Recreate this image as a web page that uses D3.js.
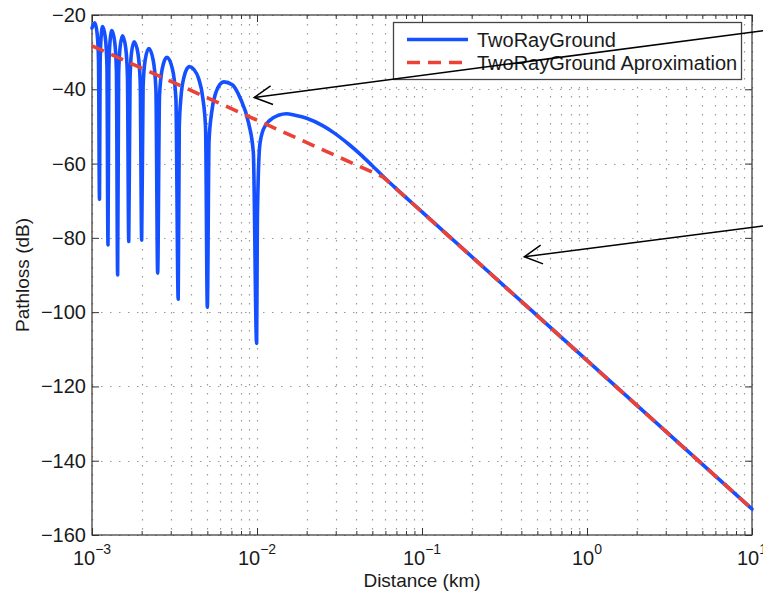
<!DOCTYPE html>
<html>
<head>
<meta charset="utf-8">
<script src="https://cdn.jsdelivr.net/npm/d3@7"></script>
<style>
body { margin: 0; background: #fff; }
text { font-family: "Liberation Sans", Arial, sans-serif; fill: #1a1a1a; }
</style>
</head>
<body>
<svg id="chart" width="763" height="595"></svg>
<script>
// two-ray ground (distance in km, pathloss in dB)
var twoRayDist = [0.001, 0.00104, 0.001074, 0.001095, 0.00111, 0.00112, 0.001135, 0.00116, 0.001205, 0.001232,
  0.00125, 0.001265, 0.001285, 0.00132, 0.001374, 0.001406, 0.00143, 0.00145, 0.00148, 0.00153,
  0.0016, 0.00164, 0.00167, 0.0017, 0.001734, 0.0018, 0.0019, 0.00196, 0.0020, 0.00204,
  0.0021, 0.00221, 0.00235, 0.00244, 0.0025, 0.002565, 0.002664, 0.00284, 0.003075, 0.003225,
  0.00333, 0.00338, 0.003463, 0.003605, 0.00375, 0.0039, 0.00415, 0.00442, 0.0047, 0.00488,
  0.0050, 0.00512, 0.0053, 0.00562, 0.00596, 0.0063, 0.00708, 0.00793, 0.00888, 0.0095,
  0.00995, 0.01005, 0.0104, 0.011, 0.012, 0.0135, 0.0151, 0.017, 0.02, 0.025,
  0.029, 0.036, 0.043, 0.05, 0.058, 0.07, 0.1, 1, 10];
var twoRayDb = [-23.5, -22.1, -25, -32, -69.6, -33, -26, -23.1, -26.2, -33.5,
  -81.9, -34.5, -27.3, -24.2, -27.4, -35, -90.0, -36, -28.7, -25.6,
  -28.8, -36.5, -81.0, -37.5, -30.3, -27.2, -30.4, -38, -80.6, -39.3,
  -32.1, -29.0, -32.2, -40, -89.5, -41.8, -34.5, -31.4, -34.6, -42.5,
  -96.5, -50, -42, -36.8, -34.6, -33.9, -34.7, -37, -42.5, -50.5,
  -98.7, -54, -46.5, -41, -38.7, -38.0, -38.8, -42.5, -49, -57,
  -108.4, -75, -55, -50.5, -48.3, -47.0, -46.6, -47.0, -47.8, -49.8,
  -51.6, -54.8, -57.8, -60.6, -63.4, -66.8, -73, -113, -153];

// approximation (free space, then 40 dB/decade)
var approxDist = [0.001, 0.058, 10];
var approxDb = [-28.3, -63.6, -153];

var yTicks = [-160, -140, -120, -100, -80, -60, -40, -20];
var xTickExp = [-3, -2, -1, 0, 1];
var seriesNames = ["TwoRayGround", "TwoRayGround Aproximation"];

// arrows: [tail distance, tail dB, tip distance, tip dB]
var arrows = [[11.7, -24.2, 0.00963, -42.2], [11.7, -76.8, 0.417, -85.1]];

window.onload = function() {
  makeChart();
};

function makeChart() {
  var left = 92, right = 752, top = 15, bottom = 535;
  var svg = d3.select("#chart");

  var x = d3.scaleLog().domain([1e-3, 10]).range([left, right]);
  var y = d3.scaleLinear().domain([-160, -20]).range([bottom, top]);

  var majors = xTickExp.map(function(e) { return Math.pow(10, e); });
  var minors = [];
  xTickExp.slice(0, -1).forEach(function(e) {
    for (var k = 2; k <= 9; k++) minors.push(k * Math.pow(10, e));
  });

  // dotted grid
  var grid = svg.append("g").attr("class", "grid");
  grid.selectAll("line.vx")
    .data(majors.concat(minors))
    .enter().append("line")
    .attr("x1", function(d) { return Math.round(x(d)) + 0.5; })
    .attr("x2", function(d) { return Math.round(x(d)) + 0.5; })
    .attr("y1", top).attr("y2", bottom);
  grid.selectAll("line.hy")
    .data(yTicks)
    .enter().append("line")
    .attr("x1", left).attr("x2", right)
    .attr("y1", function(d) { return Math.round(y(d)) + 0.5; })
    .attr("y2", function(d) { return Math.round(y(d)) + 0.5; });
  grid.selectAll("line")
    .attr("stroke", "#9a9a9a")
    .attr("stroke-width", 1.2)
    .attr("stroke-dasharray", "1.5,7.5");

  // ticks pointing inward on all sides
  svg.append("g").attr("transform", "translate(0," + bottom + ")")
    .call(d3.axisBottom(x).tickValues(majors).tickSize(-7).tickFormat(""));
  svg.append("g").attr("transform", "translate(0," + bottom + ")")
    .call(d3.axisBottom(x).tickValues(minors).tickSize(-4).tickFormat(""));
  svg.append("g").attr("transform", "translate(0," + top + ")")
    .call(d3.axisTop(x).tickValues(majors).tickSize(-7).tickFormat(""));
  svg.append("g").attr("transform", "translate(0," + top + ")")
    .call(d3.axisTop(x).tickValues(minors).tickSize(-4).tickFormat(""));
  svg.append("g").attr("transform", "translate(" + left + ",0)")
    .call(d3.axisLeft(y).tickValues(yTicks).tickSize(-7).tickFormat(""));
  svg.append("g").attr("transform", "translate(" + right + ",0)")
    .call(d3.axisRight(y).tickValues(yTicks).tickSize(-7).tickFormat(""));
  svg.selectAll(".domain").remove();
  svg.selectAll(".tick line").attr("stroke", "#333");

  svg.append("rect")
    .attr("x", left).attr("y", top)
    .attr("width", right - left).attr("height", bottom - top)
    .attr("fill", "none").attr("stroke", "#333").attr("stroke-width", 1.2);

  // tick labels
  svg.selectAll("text.ylab")
    .data(yTicks)
    .enter().append("text")
    .attr("x", left - 6)
    .attr("y", function(d) { return y(d) + 7; })
    .attr("text-anchor", "end")
    .style("font-size", "20px")
    .text(function(d) { return d < 0 ? "\u2212" + (-d) : d; });

  var xl = svg.selectAll("text.xlab")
    .data(xTickExp)
    .enter().append("text")
    .attr("x", function(e) { return x(Math.pow(10, e)); })
    .attr("y", 565)
    .attr("text-anchor", "middle")
    .style("font-size", "20px");
  xl.append("tspan").text("10");
  xl.append("tspan")
    .attr("dy", -11)
    .style("font-size", "14px")
    .text(function(e) { return e < 0 ? "\u2212" + (-e) : e; });

  svg.append("text")
    .attr("x", (left + right) / 2).attr("y", 587)
    .attr("text-anchor", "middle")
    .style("font-size", "19px")
    .text("Distance (km)");
  svg.append("text")
    .attr("transform", "translate(29," + (top + bottom) / 2 + ") rotate(-90)")
    .attr("text-anchor", "middle")
    .style("font-size", "19px")
    .text("Pathloss (dB)");

  // series
  var line = d3.line()
    .x(function(d) { return x(d[0]); })
    .y(function(d) { return y(d[1]); })
    .curve(d3.curveMonotoneX);

  var blue = twoRayDist.map(function(d, i) { return [d, twoRayDb[i]]; });
  var red = approxDist.map(function(d, i) { return [d, approxDb[i]]; });

  svg.append("path")
    .datum(blue)
    .attr("d", line)
    .attr("fill", "none")
    .attr("stroke", "#1450ff")
    .attr("stroke-width", 3.6)
    .attr("stroke-linejoin", "round")
    .attr("stroke-linecap", "round");

  svg.append("path")
    .datum(red)
    .attr("d", d3.line().x(function(d) { return x(d[0]); }).y(function(d) { return y(d[1]); }))
    .attr("fill", "none")
    .attr("stroke", "#ec4236")
    .attr("stroke-width", 3.6)
    .attr("stroke-dasharray", "13,8");

  // legend
  var lg = svg.append("g");
  lg.append("rect")
    .attr("x", 393.5).attr("y", 22.5)
    .attr("width", 348).attr("height", 57)
    .attr("fill", "#fff").attr("stroke", "#444").attr("stroke-width", 1.3);
  var colors = ["#1450ff", "#ec4236"];
  var dashes = [null, "13,8"];
  seriesNames.forEach(function(name, i) {
    var ly = 39.5 + i * 23;
    lg.append("line")
      .attr("x1", 407).attr("x2", 468)
      .attr("y1", ly).attr("y2", ly)
      .attr("stroke", colors[i]).attr("stroke-width", 3.6)
      .attr("stroke-dasharray", dashes[i]);
    lg.append("text")
      .attr("x", 477).attr("y", ly + 7)
      .style("font-size", "20px")
      .text(name);
  });

  // annotation arrows
  var ag = svg.append("g").attr("stroke", "#000").attr("stroke-width", 1.5).attr("fill", "none");
  arrows.forEach(function(a) {
    var x0 = x(a[0]), y0 = y(a[1]), x1 = x(a[2]), y1 = y(a[3]);
    var ang = Math.atan2(y0 - y1, x0 - x1);
    var len = 20, spread = 28 * Math.PI / 180;
    ag.append("line").attr("x1", x0).attr("y1", y0).attr("x2", x1).attr("y2", y1);
    ag.append("path")
      .attr("d", "M" + (x1 + len * Math.cos(ang - spread)) + "," + (y1 + len * Math.sin(ang - spread)) +
        "L" + x1 + "," + y1 +
        "L" + (x1 + len * Math.cos(ang + spread)) + "," + (y1 + len * Math.sin(ang + spread)));
  });
}
</script>
</body>
</html>
